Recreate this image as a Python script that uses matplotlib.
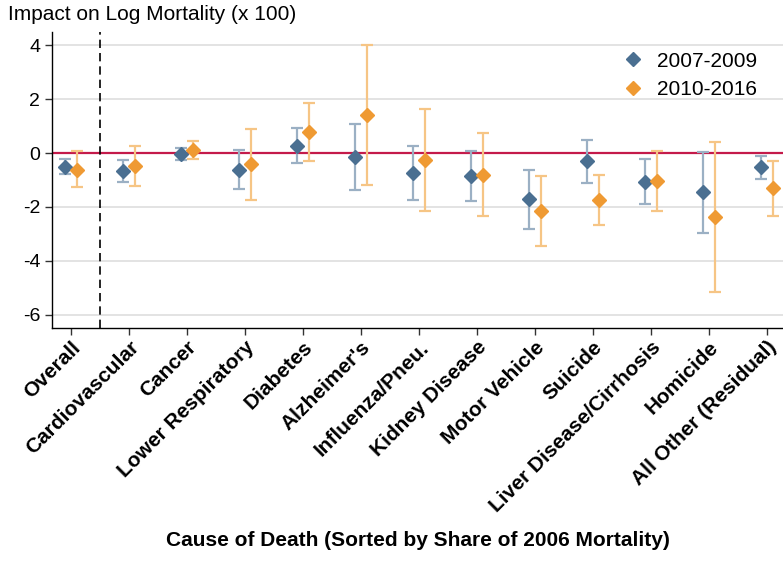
import numpy as np
import matplotlib.pyplot as plt

plt.rcParams['font.family'] = ['Liberation Sans', 'DejaVu Sans']

# causas de muerte, ordenadas por participacion en la mortalidad de 2006
causes = ['Overall', 'Cardiovascular', 'Cancer', 'Lower Respiratory', 'Diabetes',
          "Alzheimer's", 'Influenza/Pneu.', 'Kidney Disease', 'Motor Vehicle',
          'Suicide', 'Liver Disease/Cirrhosis', 'Homicide', 'All Other (Residual)']

# 2007-2009: estimacion puntual e intervalo
est_0709 = [-0.51, -0.68, -0.03, -0.61, 0.28, -0.14, -0.73, -0.84, -1.71, -0.31, -1.07, -1.46, -0.53]
lo_0709 = [-0.79, -1.07, -0.25, -1.34, -0.37, -1.38, -1.73, -1.78, -2.81, -1.10, -1.88, -2.96, -0.98]
hi_0709 = [-0.21, -0.26, 0.20, 0.11, 0.94, 1.09, 0.25, 0.07, -0.62, 0.50, -0.21, 0.04, -0.09]

# 2010-2016
est_1016 = [-0.61, -0.47, 0.11, -0.42, 0.79, 1.41, -0.27, -0.80, -2.16, -1.73, -1.04, -2.38, -1.30]
lo_1016 = [-1.25, -1.21, -0.21, -1.75, -0.29, -1.19, -2.17, -2.34, -3.45, -2.66, -2.14, -5.16, -2.32]
hi_1016 = [0.07, 0.27, 0.45, 0.90, 1.86, 4.01, 1.62, 0.74, -0.85, -0.80, 0.07, 0.42, -0.30]

yticks = [-6, -4, -2, 0, 2, 4]


def plot_series(ax, x, est, lo, hi, color, ci_color, label):
    est = np.array(est)
    err = np.vstack([est - np.array(lo), np.array(hi) - est])
    ax.errorbar(x, est, yerr=err, fmt='none', ecolor=ci_color, elinewidth=1.6,
                capsize=4.5, capthick=1.6, zorder=3)
    ax.plot(x, est, 'D', color=color, markersize=7, label=label, zorder=4,
            linestyle='none')


fig = plt.figure(figsize=(7.83, 5.61), dpi=100)
ax = fig.add_axes([52 / 783, 1 - 328 / 561, 1 - 52 / 783, (328 - 32) / 561])

pos = np.arange(1, len(causes) + 1)
plot_series(ax, pos - 0.1, est_0709, lo_0709, hi_0709, '#4a6f91', '#9bb0c4', '2007-2009')
plot_series(ax, pos + 0.1, est_1016, lo_1016, hi_1016, '#ef9a33', '#f6c585', '2010-2016')

ax.axhline(0, color='#c41a4a', linewidth=1.6, zorder=2)
ax.axvline(1.5, color='black', linewidth=1.2, linestyle=(0, (5, 3)), zorder=2)

ax.set_xlim(0.67, 13.28)
ax.set_ylim(-6.5, 4.5)
ax.set_yticks(yticks)
ax.set_yticklabels([str(t) for t in yticks], fontsize=14)
ax.yaxis.grid(True, color='#e0e0e0', linewidth=1.3, zorder=0)
ax.set_axisbelow(True)

ax.set_xticks(pos)
ax.set_xticklabels(causes, rotation=45, ha='right', rotation_mode='anchor',
                   fontsize=15, fontweight='bold')
ax.tick_params(axis='both', direction='out', length=5, width=1, color='#333333')
ax.tick_params(axis='x', pad=2)

for s in ['top', 'right']:
    ax.spines[s].set_visible(False)
for s in ['left', 'bottom']:
    ax.spines[s].set_linewidth(1.0)

ax.legend(loc='upper right', bbox_to_anchor=(0.99, 0.997), frameon=False,
          fontsize=15, handletextpad=0.55, labelspacing=0.45, handlelength=1.2)

fig.text(8 / 783, 1 - 14 / 561, 'Impact on Log Mortality (x 100)', fontsize=15,
         ha='left', va='center')
fig.text((52 + 783) / 2 / 783, 1 - 541 / 561,
         'Cause of Death (Sorted by Share of 2006 Mortality)', fontsize=15,
         fontweight='bold', ha='center', va='center')

fig.savefig('out.png', dpi=100)
